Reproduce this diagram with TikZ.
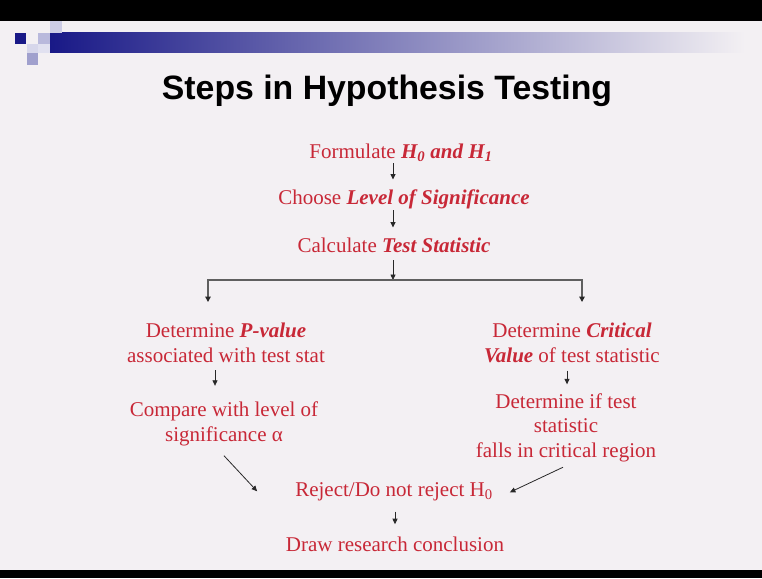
\documentclass[tikz,border=0pt]{standalone}
\usepackage{fontspec}
\setmainfont{Liberation Serif}
\newfontfamily\titlefont{Liberation Sans}
\usetikzlibrary{arrows.meta}
\definecolor{bgc}{RGB}{243,240,243}
\definecolor{txtred}{RGB}{200,40,55}
\definecolor{navy}{RGB}{25,25,135}
\definecolor{arrc}{RGB}{40,40,40}
\definecolor{brk}{RGB}{95,95,95}
\definecolor{sqA}{RGB}{205,205,230}
\definecolor{sqB}{RGB}{185,185,220}
\definecolor{sqC}{RGB}{215,215,235}
\definecolor{sqD}{RGB}{225,225,240}
\definecolor{sqE}{RGB}{160,160,205}
\begin{document}
\begin{tikzpicture}[x=1pt,y=-1pt,
  txt/.style={font=\fontsize{21}{24.5}\selectfont, text=txtred, inner sep=0pt, align=center, anchor=base},
  arr/.style={draw=arrc, line width=0.8pt, -{Triangle[length=5.5pt,width=5pt]}},
  brkarr/.style={draw=brk, line width=1.6pt, {Triangle[length=5.5pt,width=5.5pt,color=arrc]}-{Triangle[length=5.5pt,width=5.5pt,color=arrc]}},
]
\useasboundingbox (0,0) rectangle (762,578);
\fill[bgc] (0,0) rectangle (762,578);
\fill[black] (0,0) rectangle (762,21);
\fill[black] (0,570) rectangle (762,578);
% header decoration
\shade[left color=navy, right color=bgc] (50,33) rectangle (745,53);
\fill[sqA] (50,21) rectangle (62,33);
\fill[sqB] (38,33) rectangle (50,44);
\fill[sqC] (27,44) rectangle (38,53);
\fill[sqD] (38,44) rectangle (50,53);
\fill[sqE] (27,53) rectangle (38,65);
\fill[navy] (15,33) rectangle (26,44);
% title
\node[font=\titlefont\bfseries\fontsize{33.8}{38}\selectfont, anchor=base, inner sep=0pt] (title) at (387,99) {Steps in Hypothesis Testing};
% steps
\node[txt] (f) at (401,158) {Formulate \textbf{\textit{H\textsubscript{0} and H\textsubscript{1}}}};
\node[txt] (c) at (404,204) {Choose \textbf{\textit{Level of Significance}}};
\node[txt] (calc) at (394,252) {Calculate \textbf{\textit{Test Statistic}}};
\node[txt] (pv) at (226,362) {Determine \textbf{\textit{P-value}}\\associated with test stat};
\node[txt] (cv) at (572,362) {Determine \textbf{\textit{Critical}}\\\textbf{\textit{Value}} of test statistic};
\node[txt] (cmp) at (224,441) {Compare with level of\\significance α};
\node[txt] (dif) at (566,457) {Determine if test\\statistic\\falls in critical region};
\node[txt] (rej) at (394,496) {Reject/Do not reject H\textsubscript{0}};
\node[txt] (drc) at (395,551) {Draw research conclusion};
% helper columns
\coordinate (mx) at (393,0);
\coordinate (mx2) at (395,0);
\coordinate (lx) at (215,0);
\coordinate (rx) at (567,0);
\coordinate (j) at (393,280);
\coordinate (jl) at (208,280);
\coordinate (jr) at (582,280);
% connectors
\draw[arr, shorten <=2pt, shorten >=9.5pt] (f.south -| mx) -- (c.north -| mx);
\draw[arr, shorten <=1.5pt, shorten >=9.7pt] (c.south -| mx) -- (calc.north -| mx);
\draw[arr, shorten <=8pt] (calc.south -| j) -- (j);
\draw[brkarr, shorten <=20.7pt, shorten >=20.7pt] (pv.north -| jl) -- (jl) -- (jr) -- (cv.north -| jr);
\draw[arr, shorten <=8pt, shorten >=15.7pt] (pv.south -| lx) -- (cmp.north -| lx);
\draw[arr, shorten <=8pt, shorten >=8.7pt] (cv.south -| rx) -- (dif.north -| rx);
\draw[arr] ([yshift=-10pt]cmp.south) -- ([xshift=-38pt]rej.west);
\draw[arr] ([xshift=-3pt,yshift=-5.5pt]dif.south) -- ([xshift=17pt,yshift=-1pt]rej.east);
\draw[arr, shorten <=11pt, shorten >=12pt] (rej.south -| mx2) -- (drc.north -| mx2);
\end{tikzpicture}
\end{document}
